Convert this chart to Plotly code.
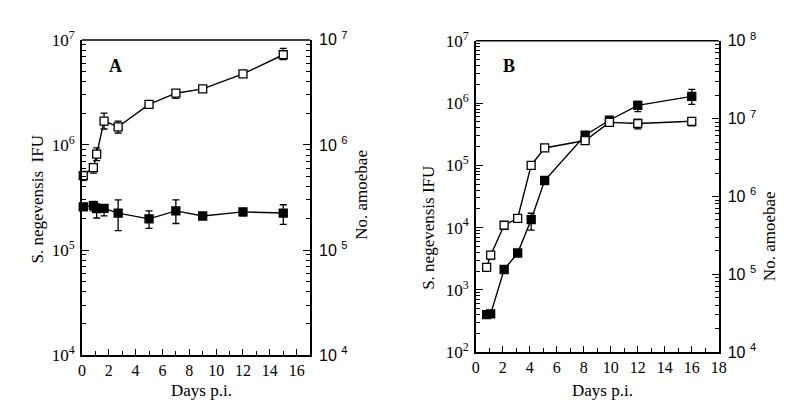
import plotly.graph_objects as go

# ---------------- Panel A ----------------
days_a = [0.1, 0.85, 1.1, 1.65, 2.7, 5, 7, 9, 12, 15]
ifu_a = [5.1e5, 6.1e5, 8.2e5, 1.69e6, 1.49e6, 2.43e6, 3.11e6, 3.42e6, 4.74e6, 7.22e6]
ifu_a_hi = [5.6e5, 6.64e5, 9.4e5, 2.01e6, 1.69e6, 2.5e6, 3.33e6, 3.5e6, 4.85e6, 8.3e6]
ifu_a_lo = [4.6e5, 5.4e5, 7.1e5, 1.42e6, 1.3e6, 2.36e6, 2.78e6, 3.33e6, 4.63e6, 6.5e6]

amoeba_a = [2.58e5, 2.65e5, 2.48e5, 2.49e5, 2.25e5, 1.98e5, 2.36e5, 2.11e5, 2.31e5, 2.25e5]
amoeba_a_hi = [2.65e5, 2.9e5, 2.75e5, 2.7e5, 3.0e5, 2.36e5, 3.0e5, 2.16e5, 2.44e5, 2.7e5]
amoeba_a_lo = [2.5e5, 2.36e5, 2.02e5, 2.12e5, 1.53e5, 1.61e5, 1.79e5, 2.06e5, 2.12e5, 1.76e5]

# ---------------- Panel B ----------------
days_b = [0.8, 1.1, 2.1, 3.1, 4.1, 5.1, 8.1, 9.9, 12, 16]
open_b = [2.3e3, 3.6e3, 1.09e4, 1.41e4, 1.0e5, 1.9e5, 2.5e5, 4.9e5, 4.7e5, 5.1e5]
open_b_hi = [2.4e3, 4.0e3, 1.15e4, 1.55e4, 1.04e5, 1.97e5, 2.6e5, 5.1e5, 5.46e5, 5.8e5]
open_b_lo = [2.2e3, 3.1e3, 1.03e4, 1.24e4, 0.96e5, 1.83e5, 2.4e5, 4.7e5, 3.84e5, 4.3e5]

filled_b = [3.99e2, 4.1e2, 2.12e3, 3.9e3, 1.34e4, 5.7e4, 3.04e5, 5.3e5, 9.2e5, 1.28e6]
filled_b_hi = [4.1e2, 4.2e2, 2.2e3, 4.05e3, 1.7e4, 5.9e4, 3.15e5, 5.5e5, 1.06e6, 1.66e6]
filled_b_lo = [3.9e2, 4.0e2, 2.05e3, 3.75e3, 9.1e3, 5.5e4, 2.95e5, 5.1e5, 7.3e5, 9.5e5]

left_a_ticks = [1e4, 1e5, 1e6, 1e7]
left_b_ticks = [1e2, 1e3, 1e4, 1e5, 1e6, 1e7]
right_b_ticks = [1e4, 1e5, 1e6, 1e7, 1e8]
x_ticks_a = [0, 2, 4, 6, 8, 10, 12, 14, 16]
x_ticks_b = [0, 2, 4, 6, 8, 10, 12, 14, 16, 18]


def sup(v, space=False):
    import math
    return ("10 " if space else "10") + "<sup>%d</sup>" % round(math.log10(v))


def errs(y, hi, lo):
    return [h - v for v, h in zip(y, hi)], [v - l for v, l in zip(y, lo)]


SERIF = "Liberation Serif, Times New Roman, Times, serif"
SANS = "Liberation Sans, Arial, Helvetica, sans-serif"

fig = go.Figure()


def add_series(x, y, hi, lo, filled, xa, ya):
    up, dn = errs(y, hi, lo)
    fig.add_trace(go.Scatter(
        x=x, y=y, xaxis=xa, yaxis=ya, mode="lines+markers",
        line=dict(color="black", width=1.4),
        marker=dict(symbol="square", size=8,
                    color="black" if filled else "white", line=dict(color="black", width=1.3)),
        error_y=dict(type="data", array=up, arrayminus=dn, color="black",
                     thickness=1.3, width=3.5),
        showlegend=False, cliponaxis=False))


add_series(days_a, amoeba_a, amoeba_a_hi, amoeba_a_lo, True, "x", "y")
add_series(days_a, ifu_a, ifu_a_hi, ifu_a_lo, False, "x", "y")
add_series(days_b, filled_b, filled_b_hi, filled_b_lo, True, "x2", "y3")
add_series(days_b, open_b, open_b_hi, open_b_lo, False, "x2", "y3")
# empty traces so the right-hand axes are drawn
fig.add_trace(go.Scatter(x=[], y=[], xaxis="x", yaxis="y2", showlegend=False))
fig.add_trace(go.Scatter(x=[], y=[], xaxis="x2", yaxis="y4", showlegend=False))

xdomA = [71 / 787, 302.7 / 787]
ydomA = [1 - 354 / 414, 1 - 21 / 414]
xdomB = [471 / 787, 717.7 / 787]
ydomB = [1 - 350.7 / 414, 1 - 22 / 414]

xcommon = dict(showline=True, linecolor="black", linewidth=1.5, ticks="inside",
               ticklen=6, tickwidth=1.3, tickcolor="black", showgrid=False,
               zeroline=False, tickfont=dict(family=SERIF, size=16, color="black"),
               minor=dict(ticks="inside", ticklen=4, tickwidth=1.3, tickcolor="black", dtick=1, showgrid=False),
               mirror=False)
ycommon = dict(type="log", showline=True, linecolor="black", linewidth=1.5, ticks="inside",
               ticklen=7, tickwidth=1.3, tickcolor="black", showgrid=False, zeroline=False,
               tickmode="array",
               minor=dict(ticks="inside", ticklen=4, tickwidth=1, tickcolor="black", dtick="D1", showgrid=False))

fig.update_layout(
    width=787, height=414, margin=dict(l=0, r=0, t=0, b=0),
    paper_bgcolor="white", plot_bgcolor="white",
    xaxis=dict(domain=xdomA, range=[0, 17], anchor="y", tickvals=x_ticks_a, **xcommon),
    yaxis=dict(domain=ydomA, range=[4, 7], anchor="x",
               tickvals=left_a_ticks, ticktext=[sup(v) for v in left_a_ticks],
               tickfont=dict(family=SERIF, size=17, color="black"), ticklabelstandoff=2, **ycommon),
    yaxis2=dict(domain=ydomA, range=[4, 7], anchor="x", overlaying="y", side="right",
                tickvals=left_a_ticks, ticktext=[sup(v, True) for v in left_a_ticks],
                tickfont=dict(family=SANS, size=16, color="black"), ticklabelstandoff=4, **ycommon),
    xaxis2=dict(domain=xdomB, range=[0, 18], anchor="y3", tickvals=x_ticks_b, **xcommon),
    yaxis3=dict(domain=ydomB, range=[2, 7], anchor="x2",
                tickvals=left_b_ticks, ticktext=[sup(v) for v in left_b_ticks],
                tickfont=dict(family=SERIF, size=17, color="black"), ticklabelstandoff=2, **ycommon),
    yaxis4=dict(domain=ydomB, range=[4, 8], anchor="x2", overlaying="y3", side="right",
                tickvals=right_b_ticks, ticktext=[sup(v, True) for v in right_b_ticks],
                tickfont=dict(family=SANS, size=16, color="black"), ticklabelstandoff=4, **ycommon),
)

# top border lines
for x0, x1, yt in [(xdomA[0], xdomA[1], ydomA[1]), (xdomB[0], xdomB[1], ydomB[1])]:
    fig.add_shape(type="line", xref="paper", yref="paper", x0=x0, x1=x1, y0=yt, y1=yt,
                  line=dict(color="black", width=1.5))
# scan border on the right edge
fig.add_shape(type="line", xref="paper", yref="paper", x0=785.5 / 787, x1=785.5 / 787,
              y0=1 - 408 / 414, y1=1 - 150 / 414, line=dict(color="black", width=1.5))

ann = []


def txt(x, y, t, size=17, angle=0, family=SERIF, bold=False):
    if bold:
        t = "<b>" + t + "</b>"
    ann.append(dict(x=x / 787, y=1 - y / 414, xref="paper", yref="paper", text=t,
                    showarrow=False, textangle=angle,
                    font=dict(family=family, size=size, color="black"),
                    xanchor="center", yanchor="middle"))


txt(105, 49, "A", size=18, bold=True)
txt(505, 49, "B", size=18, bold=True)
txt(192, 391, "Days p.i.")
txt(600, 391, "Days p.i.")
txt(26, 190, "S. negevensis  IFU", angle=-90)
txt(355, 185, "No. amoebae", angle=-90)
txt(423, 220, "S. negevensis IFU", angle=-90)
txt(770, 228, "No. amoebae", angle=-90)
fig.update_layout(annotations=ann)

fig.write_html("out.html")
